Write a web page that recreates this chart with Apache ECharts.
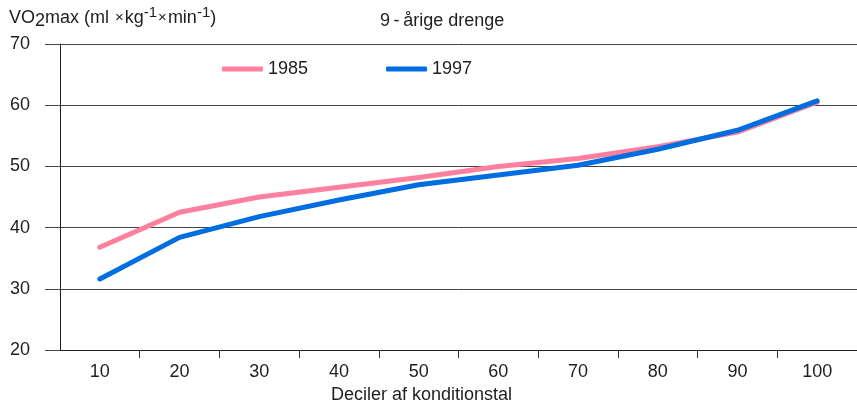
<!DOCTYPE html>
<html>
<head>
<meta charset="utf-8">
<script src="https://cdn.jsdelivr.net/npm/echarts@6/dist/echarts.min.js"></script>
<style>
  html, body { margin: 0; padding: 0; background: #fff; }
  #chart { width: 857px; height: 405px; }
</style>
</head>
<body>
<div id="chart"></div>
<script>
// Deciles of fitness score (x axis)
const deciles = ['10', '20', '30', '40', '50', '60', '70', '80', '90', '100'];
// VO2max per decile, 9-year-old boys
const vo2max1985 = [36.8, 42.5, 45.0, 46.6, 48.2, 50.0, 51.3, 53.2, 55.6, 60.5];
const vo2max1997 = [31.6, 38.4, 41.8, 44.5, 47.0, 48.6, 50.2, 52.8, 55.9, 60.7];
const seriesNames = ['1985', '1997'];
const yTicks = { min: 20, max: 70, step: 10 };

const FONT = 'Liberation Sans, Arial, sans-serif';
const INK = '#1e1e1e';
const PINK = '#ff7f9e';
const BLUE = '#006de0';

const chart = echarts.init(document.getElementById('chart'), null, { renderer: 'canvas' });

const plain = { fontFamily: FONT, fontWeight: 'normal', color: INK };

chart.setOption({
  backgroundColor: '#ffffff',
  animation: false,
  textStyle: { fontFamily: FONT, color: INK },
  title: [{
    left: 4,
    top: 3,
    text: '{n|VO}{s|2}{n|max (ml }{x|×}{n|kg}{p|-1}{x|×}{n|min}{p|-1}{n|)}',
    textStyle: {
      fontWeight: 'normal',
      rich: {
        n: Object.assign({ fontSize: 18, lineHeight: 20 }, plain),
        s: Object.assign({ fontSize: 18, lineHeight: 20, padding: [7, 0, 0, 0] }, plain),
        x: Object.assign({ fontSize: 15, lineHeight: 20, padding: [0, 1, 0, 1] }, plain),
        p: Object.assign({ fontSize: 15, lineHeight: 15, padding: [0, 0, 11, 0] }, plain)
      }
    }
  }, {
    left: 375,
    top: 7,
    text: '9\u2009-\u2009årige drenge',
    textStyle: Object.assign({ fontSize: 18 }, plain)
  }],
  legend: {
    left: 217,
    top: 55,
    icon: 'roundRect',
    itemWidth: 41,
    itemHeight: 5,
    itemGap: 78,
    data: seriesNames,
    textStyle: Object.assign({ fontSize: 18 }, plain)
  },
  grid: { left: 60, top: 44, width: 800, height: 306, containLabel: false },
  xAxis: {
    type: 'category',
    data: deciles,
    boundaryGap: true,
    axisLine: { show: true, lineStyle: { color: INK, width: 1 } },
    axisTick: {
      show: true,
      length: 8,
      interval: (i) => i > 0,
      lineStyle: { color: '#333', width: 1 }
    },
    axisLabel: Object.assign({ margin: 13, fontSize: 18 }, plain),
    splitLine: { show: false }
  },
  yAxis: {
    type: 'value',
    min: yTicks.min,
    max: yTicks.max,
    interval: yTicks.step,
    axisLine: { show: true, lineStyle: { color: INK, width: 1 } },
    axisTick: { show: true, inside: false, length: 15, lineStyle: { color: '#444', width: 1 } },
    axisLabel: Object.assign({ margin: 30, fontSize: 18 }, plain),
    splitLine: { show: true, lineStyle: { color: '#444', width: 1 } }
  },
  graphic: [{
    type: 'text',
    left: 331,
    top: 386,
    style: { text: 'Deciler af konditionstal', font: '18px ' + FONT, fill: INK }
  }],
  series: [{
    name: seriesNames[0],
    type: 'line',
    data: vo2max1985,
    symbol: 'none',
    lineStyle: { color: PINK, width: 5, cap: 'round', join: 'round' },
    itemStyle: { color: PINK },
    z: 2
  }, {
    name: seriesNames[1],
    type: 'line',
    data: vo2max1997,
    symbol: 'none',
    lineStyle: { color: BLUE, width: 5, cap: 'round', join: 'round' },
    itemStyle: { color: BLUE },
    z: 3
  }]
});
</script>
</body>
</html>
